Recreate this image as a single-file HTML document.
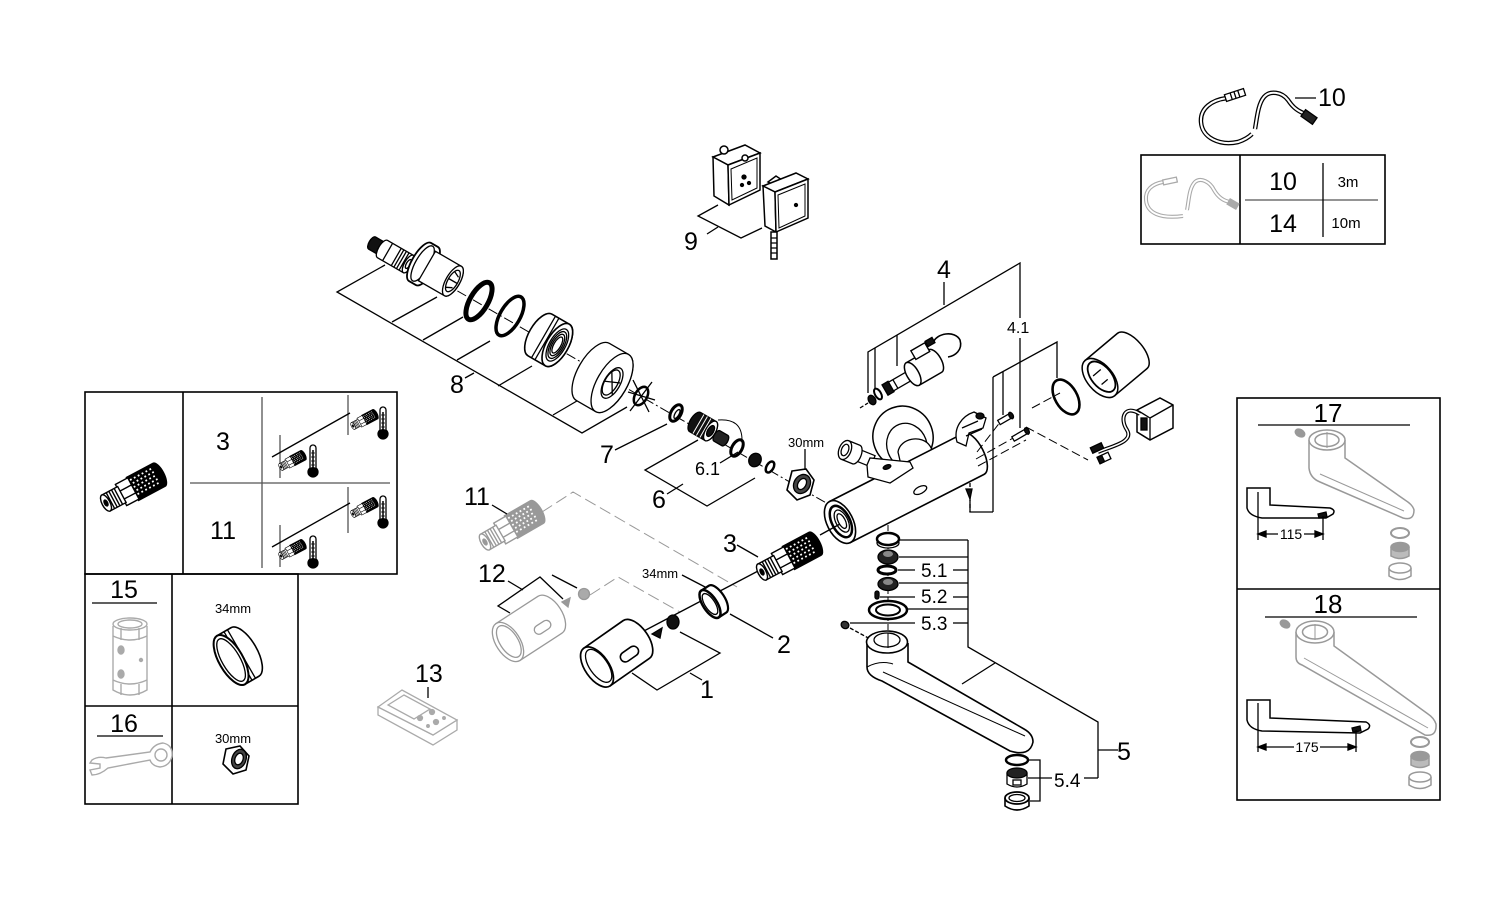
<!DOCTYPE html>
<html><head><meta charset="utf-8"><style>
html,body{margin:0;padding:0;background:#fff;}
svg{display:block;}
text{font-family:"Liberation Sans",Arial,sans-serif;fill:#000;}
</style></head><body>
<svg width="1500" height="916" viewBox="0 0 1500 916" xmlns="http://www.w3.org/2000/svg">
<defs>
<g id="cart" stroke="currentColor" stroke-width="1.4" fill="#fff">
  <path d="M30,-13 H60 A5,13 0 0 1 60,13 H30 Z" fill="currentColor"/>
  <g stroke="#fff" stroke-width="1.8" stroke-dasharray="1.8 2.6">
    <line x1="32" y1="-9" x2="58" y2="-9"/><line x1="33" y1="-5" x2="59" y2="-5"/>
    <line x1="32" y1="-1" x2="58" y2="-1"/><line x1="33" y1="3" x2="59" y2="3"/>
    <line x1="32" y1="7" x2="58" y2="7"/>
  </g>
  <path d="M17,-12 H31 V12 H17 Z"/>
  <line x1="17" y1="-4" x2="31" y2="-4"/><line x1="17" y1="5" x2="31" y2="5"/>
  <path d="M0,-9 H18 V9 H0 Z"/>
  <line x1="5" y1="-9" x2="5" y2="9"/><line x1="8" y1="-9" x2="8" y2="9"/><line x1="11" y1="-9" x2="11" y2="9"/><line x1="14" y1="-9" x2="14" y2="9"/>
  <ellipse cx="0" rx="4" ry="9"/>
  <ellipse cx="0" rx="1.6" ry="3.2" fill="currentColor"/>
</g>
<g id="therm">
  <path d="M-3,-13 A3,3 0 0 1 3,-13 V7 A5,5 0 1 1 -3,7 Z" fill="#fff" stroke="#000" stroke-width="1.3"/>
  <circle cx="0" cy="11" r="4.3" fill="#000"/>
  <line x1="0" y1="-11" x2="0" y2="8" stroke="#000" stroke-width="1.5"/>
  <g stroke="#000" stroke-width="0.8"><line x1="-2" y1="-8" x2="2" y2="-8"/><line x1="-2" y1="-4" x2="2" y2="-4"/><line x1="-2" y1="0" x2="2" y2="0"/><line x1="-2" y1="4" x2="2" y2="4"/></g>
</g>
</defs>

<g fill="none" stroke="#000" stroke-width="1.3">

<!-- ===== Top-right cable 10 ===== -->
<path d="M1227,98 C1212,100 1200,108 1201,122 C1202,138 1220,146 1238,142 C1244,140 1249,137 1252,134 M1255,129 C1257,118 1258,104 1264,97 C1270,90 1282,92 1288,100 C1292,106 1296,110 1303,113" stroke-width="4.5"/>
<path d="M1227,98 C1212,100 1200,108 1201,122 C1202,138 1220,146 1238,142 C1244,140 1249,137 1252,134 M1255,129 C1257,118 1258,104 1264,97 C1270,90 1282,92 1288,100 C1292,106 1296,110 1303,113" stroke="#fff" stroke-width="2"/>
<g transform="translate(1235,95) rotate(-18)"><rect x="-10" y="-3.5" width="20" height="7" fill="#fff"/><path d="M-4,-3.5 V3.5 M0,-3.5 V3.5 M4,-3.5 V3.5"/></g>
<g transform="translate(1309,117) rotate(35)"><rect x="-7" y="-4" width="14" height="8" fill="#222"/></g>
<line x1="1295" y1="98" x2="1316" y2="98"/>

<!-- box 10/14 -->
<rect x="1141" y="155" width="244" height="89" stroke-width="1.6"/>
<line x1="1240" y1="155" x2="1240" y2="244" stroke-width="1.6"/>
<line x1="1245" y1="200" x2="1378" y2="200" stroke="#555"/>
<line x1="1323" y1="163" x2="1323" y2="237"/>
<g stroke="#aaa">
<path d="M1163,182 C1152,184 1145,190 1146,200 C1147,213 1160,219 1183,216 M1187,210 C1189,200 1189,188 1195,182 C1201,177 1210,182 1214,190 C1218,197 1224,201 1230,202" stroke-width="4"/>
<path d="M1163,182 C1152,184 1145,190 1146,200 C1147,213 1160,219 1183,216 M1187,210 C1189,200 1189,188 1195,182 C1201,177 1210,182 1214,190 C1218,197 1224,201 1230,202" stroke="#fff" stroke-width="1.8"/>
<g transform="translate(1170,181) rotate(-12)"><rect x="-7" y="-2.5" width="14" height="5" fill="#fff"/></g>
<g transform="translate(1233,204) rotate(30)"><rect x="-5" y="-3" width="10" height="6" fill="#aaa"/></g>
</g>

<!-- ===== Part 9 ===== -->
<g fill="#fff" stroke-width="1.5">
<polygon points="713,157 745,145 760,153 728,165"/>
<polygon points="713,157 728,165 729,205 714,196"/>
<polygon points="728,165 760,153 760,190 729,205"/>
<polygon points="731,169 757,158 757,188 732,200" fill="none" stroke-width="1"/>
<circle cx="724" cy="150" r="4"/>
<circle cx="745" cy="158" r="3"/>
</g>
<circle cx="744" cy="177" r="2" fill="#000"/><circle cx="749" cy="183" r="1.5" fill="#000"/><circle cx="742" cy="185" r="1.5" fill="#000"/>
<g fill="#fff" stroke-width="1.5">
<path d="M768,182 L776,176 L782,180 L776,186 Z"/>
<polygon points="763,186 796,173 808,179 775,192"/>
<polygon points="763,186 775,192 776,232 765,226"/>
<polygon points="775,192 808,179 808,218 776,232"/>
<polygon points="778,195 805,184 805,216 779,228" fill="none" stroke-width="1"/>
<rect x="771" y="232" width="6" height="27"/>
</g>
<path d="M771,238 H777 M771,243 H777 M771,248 H777 M771,253 H777"/>
<circle cx="796" cy="205" r="1.5" fill="#000"/>
<polyline points="718,205 698,216 741,238 762,228"/>
<line x1="707" y1="234" x2="718" y2="227"/>

<!-- ===== Part 8 chain ===== -->
<line x1="395" y1="255" x2="835" y2="508" stroke-width="1" stroke-dasharray="10 3 2 3"/>
<!-- bracket 8 -->
<polyline points="385,265 337,292 582,433 627,407"/>
<line x1="392" y1="322" x2="437" y2="297"/>
<line x1="423" y1="340" x2="463" y2="317"/>
<line x1="457" y1="360" x2="490" y2="341"/>
<line x1="498" y1="386" x2="532" y2="366"/>
<line x1="553" y1="415" x2="582" y2="398"/>
<line x1="465" y1="378" x2="474" y2="373"/>

<g transform="translate(372,243) rotate(30)" fill="#fff">
 <path d="M0,-7 H14 A3,7 0 0 1 14,7 H0 A3,7 0 0 1 0,-7Z" fill="#111"/>
 <path d="M12,-10 H42 A4,10 0 0 1 42,10 H12 A4,10 0 0 1 12,-10Z"/>
 <path d="M18,-10 V10 M28,-10 V10 M31,-10 V10 M34,-10 V10 M37,-10 V10"/>
 <ellipse cx="42" rx="4" ry="10"/><ellipse cx="42" rx="2" ry="5"/>
</g>
<g transform="translate(420,262) rotate(30)" fill="#fff">
 <path d="M0,-22 H8 A8,22 0 0 1 8,22 H0 A8,22 0 0 1 0,-22Z" stroke-width="1.8"/>
 <ellipse cx="3" rx="7" ry="20" fill="none"/>
 <path d="M8,-17 H38 A7,17 0 0 1 38,17 H8 Z"/>
 <ellipse cx="38" rx="7" ry="17"/><ellipse cx="38" rx="5" ry="12"/>
 <path d="M35,-9 L41,-6 M35,9 L41,6 M33,0 L43,0"/>
</g>
<ellipse cx="0" cy="0" rx="9" ry="21" stroke-width="5" transform="translate(479,301) rotate(30)"/>
<ellipse cx="0" cy="0" rx="10" ry="22" stroke-width="3.5" transform="translate(510,316) rotate(30)"/>
<g transform="translate(540,335) rotate(30)" fill="#fff">
 <path d="M0,-24 H20 A11,24 0 0 1 20,24 H0 A11,24 0 0 1 0,-24Z" stroke-width="1.6"/>
 <path d="M4,-24 V24 M8,-24 V24" fill="none"/>
 <ellipse cx="20" rx="11" ry="24" stroke-width="1.6"/>
 <ellipse cx="20" rx="8" ry="18"/>
 <ellipse cx="20" rx="6.5" ry="15" fill="none"/><ellipse cx="20" rx="5" ry="12" fill="none"/><ellipse cx="20" rx="3.5" ry="9" fill="none"/>
</g>
<g transform="translate(593,372) rotate(30)" fill="#fff">
 <path d="M0,-33 H22 A15,33 0 0 1 22,33 H0 A15,33 0 0 1 0,-33Z"/>
 <ellipse cx="22" rx="15" ry="33"/>
 <ellipse cx="22" rx="8" ry="17"/><ellipse cx="21" rx="6.5" ry="14" fill="none"/>
 <path d="M16,-10 L28,10 M15,2 L29,-4" fill="none"/>
</g>
<g stroke-width="1.3">
 <ellipse cx="0" cy="0" rx="6" ry="10" stroke-width="2.5" fill="#fff" transform="translate(641,396) rotate(30)"/>
 <path d="M633,380 L649,412 M652,382 L630,411 M628,392 L655,400"/>
</g>

<!-- Part 7 -->
<ellipse cx="0" cy="0" rx="5" ry="9" stroke-width="3" fill="#fff" transform="translate(676,413) rotate(30)"/>
<ellipse cx="0" cy="0" rx="2" ry="5" transform="translate(677,414) rotate(30)"/>
<line x1="615" y1="450" x2="667" y2="424"/>

<!-- Part 6 -->
<path d="M718,420 Q742,418 742,440" stroke-width="1"/>
<g transform="translate(695,422) rotate(30)">
 <path d="M0,-11 H18 A5,11 0 0 1 18,11 H0 A5,11 0 0 1 0,-11Z" fill="#111"/>
 <path d="M4,-11 V11 M8,-11 V11 M12,-11 V11" stroke="#fff" stroke-width="1"/>
 <ellipse cx="18" rx="5" ry="11" fill="#fff"/><ellipse cx="18" rx="3" ry="6" fill="#111"/>
</g>
<g transform="translate(717,436) rotate(30)"><path d="M0,-6 H9 A3,6 0 0 1 9,6 H0 A3,6 0 0 1 0,-6Z" fill="#222"/></g>
<ellipse cx="0" cy="0" rx="5" ry="9" stroke-width="3" fill="#fff" transform="translate(737,448) rotate(30)"/>
<ellipse cx="0" cy="0" rx="6" ry="7" fill="#111" transform="translate(755,460) rotate(30)"/>
<ellipse cx="0" cy="0" rx="3.5" ry="6" stroke-width="2.5" fill="#fff" transform="translate(770,467) rotate(30)"/>
<polyline points="698,440 645,470 707,506 755,478"/>
<line x1="667" y1="494" x2="683" y2="484"/>
<line x1="720" y1="463" x2="738" y2="452"/>

<!-- 30mm nut -->
<polygon points="792,471 806,469 814,480 810,495 797,500 787,490" fill="#fff" stroke-width="1.6"/>
<ellipse cx="802" cy="484" rx="8" ry="10" fill="#444" transform="rotate(30 802 484)"/>
<ellipse cx="802" cy="484" rx="4" ry="6" fill="#fff" transform="rotate(30 802 484)"/>
<line x1="805" y1="449" x2="805" y2="470"/>

<!-- ===== Body ===== -->
<line x1="970" y1="483" x2="970" y2="512" stroke-dasharray="4 3"/>
<ellipse cx="903" cy="437" rx="30" ry="31" fill="#fff" stroke-width="1.5" transform="rotate(-20 903 437)"/>
<ellipse cx="907" cy="446" rx="20" ry="23" fill="#fff" transform="rotate(-20 907 446)"/>
<path d="M898,452 C900,438 922,434 930,446 L942,468 L905,482 Z" fill="#fff"/>
<g transform="translate(845,450) rotate(22)" fill="#fff">
 <path d="M12,-6 H30 V6 H12 Z"/>
 <path d="M0,-10 H12 A5,10 0 0 1 12,10 H0 Z"/>
 <ellipse cx="0" rx="6" ry="10"/><ellipse cx="0" rx="3.5" ry="6"/>
</g>
<g transform="translate(840,522) rotate(-27)" fill="#fff">
 <path d="M0,-23 H150 A10,23 0 0 1 150,23 H0 Z" stroke-width="1.6"/>
 <ellipse cx="0" rx="13" ry="23" stroke-width="1.6"/>
 <ellipse cx="1" rx="9" ry="17" stroke-width="2.5"/>
 <ellipse cx="2" rx="6" ry="12" fill="none"/>
 <ellipse cx="2" rx="3.5" ry="8" fill="none"/>
 <ellipse cx="86" cy="8" rx="7" ry="3.5" fill="#fff"/>
</g>
<polygon points="867,465 870,458 910,462 913,468 890,483 868,477" fill="#fff"/>
<ellipse cx="887" cy="467" rx="4" ry="2" fill="#111" transform="rotate(-20 887 467)"/>
<path d="M957,442 C953,428 962,416 974,412 L986,418 L983,428 L969,433 L966,446 Z" fill="#fff"/>
<path d="M962,428 L978,421 M966,436 L982,429" />
<ellipse cx="980" cy="416" rx="4" ry="3" fill="#111"/>
<path d="M966,489 L972,489 L970,499 Z" fill="#111"/>
<polyline points="970,500 970,512 993,512"/>
<!-- dashed lines from body right end -->
<g stroke-dasharray="9 4" stroke-width="1">
<line x1="977" y1="452" x2="1001" y2="421"/>
<line x1="976" y1="459" x2="1015" y2="437"/>
<line x1="1026" y1="427" x2="1088" y2="460"/>
<line x1="978" y1="466" x2="1026" y2="440"/>
<line x1="1032" y1="408" x2="1060" y2="393"/>
</g>

<!-- ===== Part 4 ===== -->
<line x1="944" y1="282" x2="944" y2="305"/>
<polyline points="868,393 868,352 1020,263 1020,318"/>
<line x1="1020" y1="338" x2="1020" y2="428"/>
<line x1="875" y1="348" x2="875" y2="390"/>
<line x1="897" y1="335" x2="897" y2="366"/>
<line x1="860" y1="408" x2="868" y2="403" stroke-dasharray="4 2"/>
<ellipse cx="872" cy="400" rx="3.5" ry="5" fill="#111" transform="rotate(-30 872 400)"/>
<ellipse cx="878" cy="394" rx="3" ry="6" stroke-width="2" fill="#fff" transform="rotate(-30 878 394)"/>
<g transform="translate(885,390) rotate(-30)" fill="#fff">
 <path d="M0,-6 H7 V6 H0 Z" fill="#111"/>
 <path d="M7,-5 H34 V5 H7 Z"/>
 <path d="M12,-5 V5" />
 <path d="M32,-13 H58 A6,13 0 0 1 58,13 H32 Z" stroke-width="1.5"/>
 <ellipse cx="32" rx="6" ry="13" stroke-width="1.5"/>
 <rect x="42" y="-21" width="16" height="10" stroke-width="1.4"/>
</g>
<path d="M933,343 C936,333 955,330 960,340 C963,350 955,356 948,357" stroke-width="1.6"/>
<rect x="926" y="339" width="8" height="6" fill="#111" transform="rotate(-30 930 342)"/>

<!-- ===== 4.1 ===== -->
<polyline points="993,377 1057,342 1057,378"/>
<line x1="993" y1="377" x2="993" y2="512"/>
<line x1="1003" y1="372" x2="1003" y2="415"/>
<g transform="translate(1005,419) rotate(-30)"><rect x="-7" y="-2.5" width="14" height="5" fill="#fff"/><ellipse cx="7" rx="2" ry="3.5" fill="#111"/></g>
<g transform="translate(1020,435) rotate(-30)"><rect x="-8" y="-2.5" width="16" height="5" fill="#fff"/><ellipse cx="8" rx="2" ry="3.5" fill="#111"/></g>
<ellipse cx="1066" cy="397" rx="11" ry="19" stroke-width="2.6" transform="rotate(-30 1066 397)"/>
<g transform="translate(1100,378) rotate(-40)" fill="#fff">
 <path d="M0,-23 H42 A11,23 0 0 1 42,23 H0 Z" stroke-width="1.5"/>
 <ellipse cx="0" rx="13" ry="23" stroke-width="1.5"/>
 <ellipse cx="2" rx="10" ry="18" fill="none" stroke-width="1.8"/>
 <path d="M-4,-6 H6 M-3,6 H5" />
</g>
<!-- connector with cable -->
<polygon points="1137,410 1160,398 1173,405 1173,428 1150,440 1137,432" fill="#fff" stroke-width="1.5"/>
<path d="M1150,418 L1173,405 M1150,418 V440 M1150,418 L1137,410" />
<rect x="1141" y="418" width="6" height="12" fill="#111"/>
<path d="M1140,414 C1125,404 1119,418 1127,430 C1134,442 1112,446 1098,452" stroke-width="4"/>
<path d="M1140,414 C1125,404 1119,418 1127,430 C1134,442 1112,446 1098,452" stroke="#fff" stroke-width="1.6"/>
<g transform="translate(1097,448) rotate(-25)"><rect x="-6" y="-3" width="12" height="6" fill="#111"/></g>
<g transform="translate(1104,458) rotate(-25)"><rect x="-6" y="-3.5" width="12" height="7" fill="#fff"/><rect x="-6" y="-3.5" width="5" height="7" fill="#111"/></g>

<!-- ===== Part 11 / 3 / 12 / 2 / 1 ===== -->
<g stroke="#999" stroke-width="1" stroke-dasharray="12 5">
 <polyline points="542,512 573,492 737,587"/>
 <polyline points="590,595 618,577 680,612"/>
</g>
<line x1="642" y1="632" x2="760" y2="570"/>
<line x1="820" y1="535" x2="840" y2="524"/>
<use href="#cart" color="#999" transform="translate(485,542) rotate(-30)"/>
<line x1="492" y1="505" x2="507" y2="514"/>
<use href="#cart" color="#000" transform="translate(762,572) rotate(-28)"/>
<line x1="737" y1="545" x2="758" y2="557"/>

<!-- 12 ghost handle -->
<g transform="translate(508,642) rotate(-33)" stroke="#999" fill="#fff">
 <path d="M0,-22 H50 A12,22 0 0 1 50,22 H0 Z"/>
 <ellipse cx="0" rx="12" ry="22"/><ellipse cx="1" rx="9" ry="18" fill="none"/>
 <rect x="28" y="2" width="18" height="9" rx="4.5"/>
</g>
<path d="M562,602 L570,598 L568,607 Z" fill="#999" stroke="#999"/>
<circle cx="584" cy="594" r="5.5" fill="#aaa" stroke="#999"/>
<polyline points="510,613 498,606 540,577 563,599"/>
<line x1="552" y1="575" x2="577" y2="588"/>
<line x1="508" y1="581" x2="523" y2="590"/>

<!-- 2 ring 34mm -->
<g transform="translate(710,604) rotate(-33)" fill="#fff">
 <path d="M0,-16 H9 A7,16 0 0 1 9,16 H0 Z" stroke-width="2.2"/>
 <ellipse cx="0" rx="7" ry="16" stroke-width="2.5"/>
 <ellipse cx="0" rx="5" ry="12" fill="none"/>
</g>
<line x1="682" y1="575" x2="707" y2="588"/>
<line x1="730" y1="614" x2="773" y2="638"/>

<!-- 1 handle -->
<g transform="translate(597,667) rotate(-35)" fill="#fff">
 <path d="M0,-23 H48 A12,23 0 0 1 48,23 H0 Z" stroke-width="1.7"/>
 <ellipse cx="0" rx="12" ry="23" stroke-width="1.7"/><ellipse cx="2" rx="9" ry="19" fill="none"/>
 <rect x="24" y="3" width="20" height="10" rx="5" stroke-width="1.6"/>
</g>
<path d="M652,634 L662,628 L660,638 Z" fill="#111"/>
<ellipse cx="673" cy="622" rx="6" ry="7" fill="#111"/>
<polyline points="632,673 657,690 720,653 680,632"/>
<line x1="690" y1="673" x2="702" y2="680"/>

<!-- ===== Part 5 ===== -->
<line x1="888" y1="525" x2="888" y2="640" stroke-width="1" stroke-dasharray="6 3"/>
<ellipse cx="888" cy="543" rx="11" ry="5" fill="#fff"/>
<ellipse cx="888" cy="539" rx="11" ry="6" fill="#fff" stroke-width="2.5"/>
<ellipse cx="888" cy="557" rx="10" ry="7" fill="#222"/>
<ellipse cx="888" cy="554" rx="5" ry="3" fill="#888" stroke="none"/>
<ellipse cx="887" cy="570" rx="9" ry="4" stroke-width="3" fill="#fff"/>
<ellipse cx="888" cy="584" rx="10" ry="6.5" fill="#222"/>
<ellipse cx="888" cy="582" rx="5" ry="3" fill="#888" stroke="none"/>
<rect x="875" y="591" width="4" height="8" rx="2" fill="#111"/>
<ellipse cx="888" cy="610" rx="19" ry="9" fill="#fff" stroke-width="2.5"/>
<ellipse cx="888" cy="610" rx="12" ry="5.5" stroke-width="2"/>
<ellipse cx="845" cy="625" rx="4" ry="3.5" fill="#333" transform="rotate(30 845 625)"/>
<line x1="850" y1="628" x2="872" y2="640" stroke-dasharray="4 2"/>
<!-- spout -->
<path d="M867,643 V667 Q867,676 882,681 L1010,751 Q1030,757 1033,742 Q1033,734 1024,729 L908,662 V643" fill="#fff" stroke-width="1.6"/>
<path d="M883,672 L1025,736" stroke-width="1"/>
<path d="M867,667 Q880,660 893,664" stroke-width="1"/>
<ellipse cx="887" cy="642" rx="20.5" ry="11" fill="#fff" stroke-width="1.6"/>
<ellipse cx="887" cy="640" rx="13" ry="7" fill="#fff"/>
<line x1="888" y1="633" x2="888" y2="648" stroke-width="1"/>
<!-- bracket 5 -->
<polyline points="968,540 968,647 1098,722 1098,778"/>
<line x1="995" y1="663" x2="962" y2="684"/>
<line x1="1098" y1="750" x2="1118" y2="750"/>
<line x1="900" y1="540" x2="968" y2="540"/>
<line x1="899" y1="557" x2="968" y2="557"/>
<line x1="898" y1="570" x2="915" y2="570"/><line x1="953" y1="570" x2="968" y2="570"/>
<line x1="899" y1="583" x2="968" y2="583"/>
<line x1="880" y1="597" x2="915" y2="597"/><line x1="953" y1="597" x2="968" y2="597"/>
<line x1="908" y1="609" x2="968" y2="609"/>
<line x1="850" y1="623" x2="915" y2="623"/><line x1="953" y1="623" x2="968" y2="623"/>
<!-- 5.4 -->
<ellipse cx="1017" cy="760" rx="11" ry="5" stroke-width="2.5" fill="#fff"/>
<path d="M1007,773 V784 Q1017,790 1027,784 V773" fill="#fff"/>
<ellipse cx="1017" cy="773" rx="10" ry="5" fill="#222"/>
<rect x="1013" y="780" width="8" height="5" fill="#fff"/>
<path d="M1005,798 V806 Q1017,814 1029,806 V798" fill="#fff" stroke-width="1.6"/>
<ellipse cx="1017" cy="798" rx="12" ry="6" fill="#fff" stroke-width="1.8"/>
<ellipse cx="1017" cy="798" rx="8" ry="3.5"/>
<polyline points="1029,760 1040,760 1040,801 1030,801"/>
<line x1="1028" y1="778" x2="1052" y2="778"/>
<line x1="1084" y1="778" x2="1098" y2="778"/>

<!-- ===== Part 13 remote ===== -->
<g stroke="#aaa" fill="#fff">
<path d="M378,707 V715 L433,745 L457,730 V720 L433,735 L378,707 Z"/>
<polygon points="378,707 402,690 457,720 433,735"/>
<polygon points="388,705 404,695 430,709 414,719" fill="none"/>
<circle cx="420" cy="718" r="2.5" fill="#aaa"/><circle cx="432" cy="712" r="2.5" fill="#aaa"/><circle cx="436" cy="722" r="2.5" fill="#aaa"/><circle cx="428" cy="726" r="1.3" fill="#aaa"/><circle cx="444" cy="718" r="1.3" fill="#aaa"/>
</g>
<line x1="428" y1="687" x2="428" y2="698"/>

<!-- ===== Left panels ===== -->
<rect x="85" y="392" width="312" height="182" stroke-width="1.6"/>
<line x1="183" y1="392" x2="183" y2="574" stroke-width="1.6"/>
<line x1="190" y1="483" x2="390" y2="483" stroke="#555"/>
<line x1="262" y1="397" x2="262" y2="568" stroke="#555"/>
<use href="#cart" color="#000" transform="translate(106,503) rotate(-28)"/>
<!-- cell 3 -->
<line x1="280" y1="435" x2="280" y2="478" stroke="#555"/>
<line x1="348" y1="395" x2="348" y2="435" stroke="#555"/>
<line x1="272" y1="457" x2="350" y2="413"/>
<use href="#cart" color="#000" transform="translate(281,467) rotate(-28) scale(0.42)"/>
<use href="#cart" color="#000" transform="translate(353,426) rotate(-28) scale(0.42)"/>
<use href="#therm" transform="translate(313,461)"/>
<use href="#therm" transform="translate(383,423)"/>
<!-- cell 11 -->
<line x1="280" y1="525" x2="280" y2="567" stroke="#555"/>
<line x1="348" y1="487" x2="348" y2="533" stroke="#555"/>
<line x1="272" y1="547" x2="350" y2="503"/>
<use href="#cart" color="#000" transform="translate(281,556) rotate(-28) scale(0.42)"/>
<use href="#cart" color="#000" transform="translate(353,514) rotate(-28) scale(0.42)"/>
<use href="#therm" transform="translate(313,552)"/>
<use href="#therm" transform="translate(383,512)"/>

<rect x="85" y="574" width="213" height="230" stroke-width="1.6"/>
<line x1="172" y1="574" x2="172" y2="804" stroke-width="1.6"/>
<line x1="85" y1="706" x2="298" y2="706" stroke-width="1.6"/>
<line x1="92" y1="603" x2="157" y2="603"/>
<line x1="97" y1="736" x2="163" y2="736"/>
<!-- 15 socket (gray) -->
<g stroke="#aaa" fill="#fff" stroke-width="1.4">
<path d="M113,626 V690 Q130,700 147,690 V626"/>
<ellipse cx="130" cy="624" rx="17" ry="6"/>
<ellipse cx="130" cy="624" rx="12" ry="4"/>
<path d="M113,636 Q130,644 147,636 M113,680 Q130,688 147,680 M121,628 V640 M139,628 V640 M121,684 V695 M139,684 V695"/>
<ellipse cx="121" cy="650" rx="3" ry="4" fill="#aaa"/><ellipse cx="121" cy="674" rx="3" ry="4" fill="#aaa"/><circle cx="141" cy="660" r="1.5" fill="#aaa"/>
</g>
<!-- 34mm ring -->
<g transform="translate(238,656) rotate(-30)" fill="#fff">
 <path d="M-8,-28 H8 A12,28 0 0 1 8,28 H-8 Z" stroke-width="1.6"/>
 <path d="M-4,-28 V28 M0,-28 V28 M4,-28 V28" fill="none"/>
 <ellipse cx="-8" rx="12" ry="28" stroke-width="2"/>
 <ellipse cx="-8" rx="9" ry="24" fill="none"/>
</g>
<!-- 16 wrench (gray) -->
<g stroke="#aaa" fill="#fff" stroke-width="1.4">
<path d="M92,760 Q98,756 106,758 L150,752 Q154,744 163,743 Q173,745 172,756 Q170,766 160,767 Q152,766 150,760 L108,768 Q100,775 92,775 L90,770 L100,768 L100,764 L90,763 Z"/>
<circle cx="161" cy="755" r="6"/>
</g>
<!-- 30mm nut -->
<polygon points="226,749 240,746 249,756 246,770 233,774 223,764" fill="#fff" stroke-width="1.6"/>
<ellipse cx="239" cy="759" rx="7" ry="10" fill="#444" transform="rotate(20 239 759)"/>
<ellipse cx="239" cy="759" rx="4" ry="6" fill="#fff" transform="rotate(20 239 759)"/>

<!-- ===== Right panel 17/18 ===== -->
<rect x="1237" y="398" width="203" height="402" stroke-width="1.6"/>
<line x1="1237" y1="589" x2="1440" y2="589" stroke-width="1.6"/>
<line x1="1258" y1="425" x2="1410" y2="425"/>
<line x1="1265" y1="617" x2="1417" y2="617"/>
<g stroke="#999" stroke-width="1.5" fill="#fff">
 <path d="M1309,440 V468 Q1310,478 1320,482 L1403,518 Q1414,521 1414,510 Q1413,505 1405,500 L1345,458 V440"/>
 <path d="M1320,474 L1404,511" stroke-width="1"/>
 <ellipse cx="1327" cy="440" rx="18" ry="10"/>
 <ellipse cx="1327" cy="440" rx="12" ry="6.5"/>
 <line x1="1327" y1="432" x2="1327" y2="448" stroke-width="1"/>
 <ellipse cx="1300" cy="433" rx="5" ry="3.5" fill="#999" transform="rotate(30 1300 433)"/>
 <ellipse cx="1400" cy="533" rx="9" ry="5" stroke-width="2"/>
 <path d="M1391,547 V556 Q1400,561 1409,556 V547" fill="#bbb"/>
 <ellipse cx="1400" cy="547" rx="9" ry="4.5" fill="#999"/>
 <path d="M1389,568 V576 Q1400,583 1411,576 V568"/>
 <ellipse cx="1400" cy="568" rx="11" ry="5"/>
</g>
<path d="M1247,488 H1270 V505 L1330,508 Q1336,510 1333,514 L1326,518 L1262,518 Q1249,516 1247,508 Z" fill="#fff" stroke-width="1.5"/>
<path d="M1318,514 L1326,512 L1327,517 L1319,518 Z" fill="#111"/>
<line x1="1258" y1="492" x2="1258" y2="540"/>
<line x1="1323" y1="516" x2="1323" y2="540"/>
<line x1="1258" y1="534" x2="1278" y2="534"/><line x1="1304" y1="534" x2="1323" y2="534"/>
<path d="M1258,534 L1266,531 L1266,537 Z M1323,534 L1315,531 L1315,537 Z" fill="#000"/>

<g stroke="#999" stroke-width="1.5" fill="#fff">
 <path d="M1296,632 V657 Q1296,663 1302,665 L1425,735 Q1437,737 1436,724 Q1434,718 1428,714 L1334,646 V632"/>
 <path d="M1304,658 L1428,728" stroke-width="1"/>
 <ellipse cx="1315" cy="632" rx="19" ry="11"/>
 <ellipse cx="1315" cy="632" rx="12.5" ry="7"/>
 <line x1="1315" y1="624" x2="1315" y2="640" stroke-width="1"/>
 <ellipse cx="1285" cy="624" rx="5" ry="3.5" fill="#999" transform="rotate(30 1285 624)"/>
 <ellipse cx="1420" cy="742" rx="9" ry="5" stroke-width="2"/>
 <path d="M1411,756 V765 Q1420,770 1429,765 V756" fill="#bbb"/>
 <ellipse cx="1420" cy="756" rx="9" ry="4.5" fill="#999"/>
 <path d="M1409,777 V785 Q1420,792 1431,785 V777"/>
 <ellipse cx="1420" cy="777" rx="11" ry="5"/>
</g>
<path d="M1247,700 H1270 V718 L1366,722 Q1372,725 1368,729 L1360,733 L1262,731 Q1249,729 1247,720 Z" fill="#fff" stroke-width="1.5"/>
<path d="M1352,728 L1360,726 L1361,731 L1353,732 Z" fill="#111"/>
<line x1="1258" y1="703" x2="1258" y2="752"/>
<line x1="1356" y1="730" x2="1356" y2="752"/>
<line x1="1258" y1="747" x2="1294" y2="747"/><line x1="1320" y1="747" x2="1356" y2="747"/>
<path d="M1258,747 L1266,744 L1266,750 Z M1356,747 L1348,744 L1348,750 Z" fill="#000"/>
</g>

<!-- ===== Labels ===== -->
<g font-size="25">
<text x="1318" y="106">10</text>
<text x="1283" y="190" text-anchor="middle">10</text>
<text x="1283" y="232" text-anchor="middle">14</text>
<text x="684" y="250">9</text>
<text x="937" y="278">4</text>
<text x="450" y="393">8</text>
<text x="600" y="463">7</text>
<text x="652" y="508">6</text>
<text x="464" y="505">11</text>
<text x="723" y="552">3</text>
<text x="478" y="582">12</text>
<text x="777" y="653">2</text>
<text x="700" y="698">1</text>
<text x="415" y="682">13</text>
<text x="1117" y="760">5</text>
<text x="223" y="450" text-anchor="middle">3</text>
<text x="223" y="539" text-anchor="middle">11</text>
<text x="124" y="598" text-anchor="middle">15</text>
<text x="124" y="732" text-anchor="middle">16</text>
<text x="1328" y="422" text-anchor="middle" font-size="26">17</text>
<text x="1328" y="613" text-anchor="middle" font-size="26">18</text>
</g>
<g font-size="19">
<text x="921" y="577">5.1</text>
<text x="921" y="603">5.2</text>
<text x="921" y="630">5.3</text>
<text x="1054" y="787">5.4</text>
</g>
<text x="695" y="475" font-size="18">6.1</text>
<text x="1007" y="333" font-size="16">4.1</text>
<text x="1348" y="187" font-size="15" text-anchor="middle">3m</text>
<text x="1346" y="228" font-size="15" text-anchor="middle">10m</text>
<g font-size="13">
<text x="788" y="447">30mm</text>
<text x="642" y="578">34mm</text>
<text x="233" y="613" text-anchor="middle">34mm</text>
<text x="233" y="743" text-anchor="middle">30mm</text>
</g>
<text x="1291" y="539" font-size="14" text-anchor="middle">115</text>
<text x="1307" y="752" font-size="14" text-anchor="middle">175</text>
</svg>
</body></html>
